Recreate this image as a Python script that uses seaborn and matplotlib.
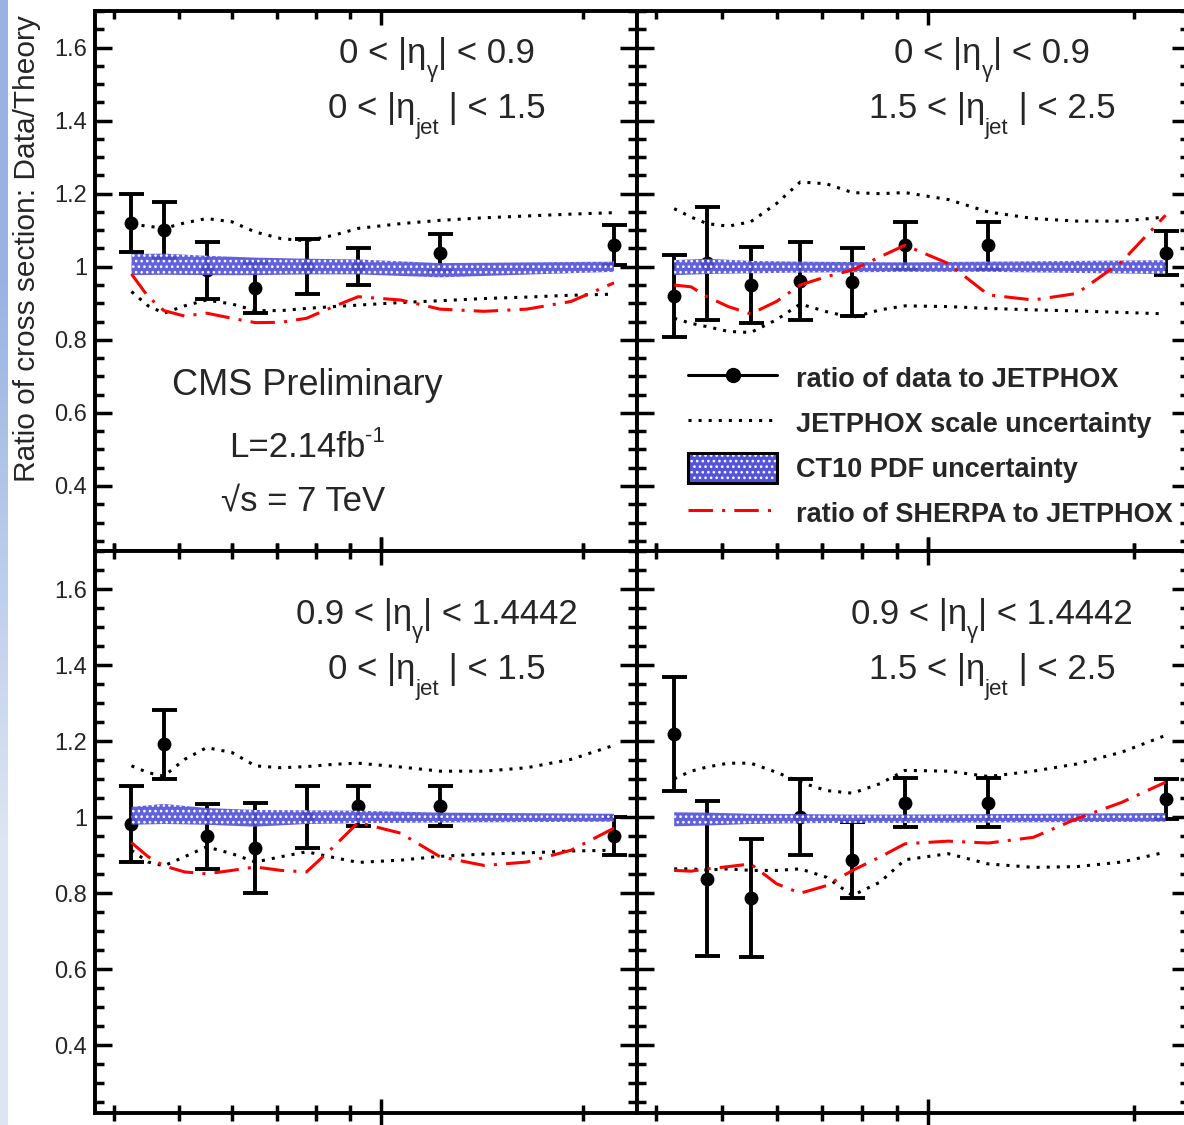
import numpy as np
import matplotlib
matplotlib.use("Agg")
import matplotlib.pyplot as plt
import seaborn as sns
from matplotlib.lines import Line2D
from matplotlib.patches import Patch
from matplotlib.ticker import FixedLocator, NullFormatter, MultipleLocator, FormatStrFormatter

# ---------------- data ----------------
PT = [42.5, 47.5, 55, 65, 77.5, 92.5, 122.5, 222.5]
PT_CURVE = [42.5, 45, 47.5, 51, 55, 60, 65, 71, 77.5, 85, 92.5, 107, 122.5, 142.5, 165, 192, 222.5]

# top-left: 0<|eta_g|<0.9, 0<|eta_jet|<1.5
tl_ratio = [1.12, 1.10, 0.99, 0.941, 1.0, 1.0, 1.039, 1.059]
tl_err = [0.08, 0.077, 0.079, 0.068, 0.075, 0.05, 0.05, 0.055]
tl_band_lo = [0.977, 0.978, 0.977, 0.977, 0.979, 0.979, 0.971, 0.986]
tl_band_hi = [1.035, 1.036, 1.030, 1.025, 1.022, 1.020, 1.010, 1.014]
tl_scale_up = [1.116, 1.111, 1.105, 1.12, 1.132, 1.123, 1.095, 1.077, 1.071, 1.086, 1.105, 1.118, 1.127, 1.134, 1.139, 1.144, 1.148]
tl_scale_dn = [0.932, 0.893, 0.873, 0.893, 0.909, 0.898, 0.88, 0.88, 0.886, 0.891, 0.895, 0.902, 0.907, 0.913, 0.917, 0.922, 0.925]
tl_sherpa = [0.98, 0.918, 0.88, 0.865, 0.873, 0.859, 0.847, 0.848, 0.859, 0.891, 0.918, 0.909, 0.884, 0.878, 0.884, 0.905, 0.956]

# top-right: 0<|eta_g|<0.9, 1.5<|eta_jet|<2.5
tr_ratio = [0.92, 1.009, 0.95, 0.961, 0.959, 1.059, 1.059, 1.038]
tr_err = [0.112, 0.155, 0.105, 0.107, 0.093, 0.064, 0.064, 0.06]
tr_band_lo = [0.977, 0.98, 0.982, 0.984, 0.985, 0.986, 0.986, 0.98]
tr_band_hi = [1.018, 1.022, 1.016, 1.014, 1.013, 1.012, 1.014, 1.018]
tr_scale_up = [1.159, 1.136, 1.118, 1.111, 1.123, 1.173, 1.232, 1.227, 1.203, 1.2, 1.203, 1.184, 1.15, 1.132, 1.125, 1.125, 1.136]
tr_scale_dn = [0.859, 0.845, 0.836, 0.823, 0.82, 0.855, 0.898, 0.877, 0.861, 0.882, 0.893, 0.891, 0.886, 0.882, 0.879, 0.875, 0.871]
tr_sherpa = [0.95, 0.945, 0.918, 0.891, 0.871, 0.905, 0.95, 0.973, 0.991, 1.027, 1.059, 1.009, 0.923, 0.909, 0.927, 1.014, 1.141]

# bottom-left: 0.9<|eta_g|<1.4442, 0<|eta_jet|<1.5
bl_ratio = [0.981, 1.192, 0.95, 0.919, 1.0, 1.03, 1.03, 0.95]
bl_err = [0.1, 0.091, 0.085, 0.118, 0.082, 0.052, 0.052, 0.05]
bl_band_lo = [0.98, 0.982, 0.98, 0.975, 0.982, 0.984, 0.986, 0.988]
bl_band_hi = [1.027, 1.035, 1.024, 1.019, 1.018, 1.017, 1.012, 1.009]
bl_scale_up = [1.135, 1.117, 1.108, 1.152, 1.183, 1.17, 1.135, 1.13, 1.133, 1.139, 1.142, 1.132, 1.121, 1.121, 1.13, 1.152, 1.189]
bl_scale_dn = [0.913, 0.882, 0.872, 0.896, 0.922, 0.904, 0.882, 0.896, 0.909, 0.894, 0.881, 0.887, 0.897, 0.903, 0.906, 0.911, 0.913]
bl_sherpa = [0.933, 0.896, 0.872, 0.856, 0.851, 0.86, 0.869, 0.86, 0.856, 0.922, 0.986, 0.958, 0.896, 0.873, 0.882, 0.913, 0.971]

# bottom-right: 0.9<|eta_g|<1.4442, 1.5<|eta_jet|<2.5
br_ratio = [1.218, 0.838, 0.788, 1.0, 0.888, 1.038, 1.038, 1.048]
br_err = [0.15, 0.204, 0.155, 0.1, 0.1, 0.064, 0.064, 0.052]
br_band_lo = [0.976, 0.978, 0.982, 0.984, 0.985, 0.985, 0.986, 0.988]
br_band_hi = [1.013, 1.012, 1.009, 1.008, 1.007, 1.007, 1.008, 1.011]
br_scale_up = [1.101, 1.121, 1.132, 1.142, 1.142, 1.118, 1.092, 1.07, 1.063, 1.088, 1.123, 1.121, 1.107, 1.121, 1.14, 1.171, 1.215]
br_scale_dn = [0.864, 0.864, 0.861, 0.864, 0.86, 0.86, 0.864, 0.842, 0.794, 0.829, 0.888, 0.904, 0.877, 0.868, 0.87, 0.882, 0.908]
br_sherpa = [0.86, 0.858, 0.864, 0.87, 0.877, 0.825, 0.8, 0.82, 0.86, 0.895, 0.93, 0.937, 0.932, 0.947, 0.996, 1.039, 1.092]

Y_TICKS_MAJOR = 0.2
Y_TICKS_MINOR = 0.05
X_MAJOR = [100]
X_MINOR = [40, 50, 60, 70, 80, 90, 200]

LEGEND_LABELS = ["ratio of data to JETPHOX", "JETPHOX scale uncertainty",
                 "CT10 PDF uncertainty", "ratio of SHERPA to JETPHOX"]

# ---------------- style ----------------
sns.set_style("ticks")
plt.rcParams["font.family"] = ["Liberation Sans", "DejaVu Sans"]
plt.rcParams["hatch.linewidth"] = 1.1
plt.rcParams["hatch.color"] = "white"

W, H = 1184, 1125
fig = plt.figure(figsize=(W / 100, H / 100), dpi=100)
fig.patch.set_facecolor("white")

BAND_FACE = (0.33, 0.33, 0.86)
BAND_HATCH = "..."
DOT = (0, (1, 2.3))
DASHDOT = (0, (8, 3, 1, 3))


def rect(x0, y0, x1, y1):
    return [x0 / W, 1 - y1 / H, (x1 - x0) / W, (y1 - y0) / H]


def draw_panel(r, ratio, err, blo, bhi, up, dn, sherpa, xdir, left_labels):
    ax = fig.add_axes(r)
    ax.set_facecolor("white")
    ax.set_xscale("log")
    ax.errorbar(PT, ratio, yerr=err, fmt="none", ecolor="black", elinewidth=2.8,
                capsize=9, capthick=2.8, zorder=2)
    sns.scatterplot(x=PT, y=ratio, ax=ax, color="black", s=100, linewidth=0, zorder=2.5)
    ax.fill_between(PT, blo, bhi, facecolor=BAND_FACE + (0.92,), edgecolor="white",
                    hatch=BAND_HATCH, linewidth=0, zorder=3)
    sns.lineplot(x=PT_CURVE, y=up, ax=ax, color="black", linewidth=2.2, linestyle=DOT, zorder=4)
    sns.lineplot(x=PT_CURVE, y=dn, ax=ax, color="black", linewidth=2.2, linestyle=DOT, zorder=4)
    sns.lineplot(x=PT_CURVE, y=sherpa, ax=ax, color="red", linewidth=2.2, linestyle=DASHDOT, zorder=4)

    ax.set_xlim(37.5, 240.8)
    ax.set_ylim(0.222, 1.70)
    ax.xaxis.set_major_locator(FixedLocator(X_MAJOR))
    ax.xaxis.set_minor_locator(FixedLocator(X_MINOR))
    ax.xaxis.set_major_formatter(NullFormatter())
    ax.xaxis.set_minor_formatter(NullFormatter())
    ax.yaxis.set_major_locator(MultipleLocator(Y_TICKS_MAJOR))
    ax.yaxis.set_minor_locator(MultipleLocator(Y_TICKS_MINOR))
    ax.yaxis.set_major_formatter(FormatStrFormatter("%g"))
    ax.tick_params(axis="y", which="both", direction="in", left=True, right=True,
                   width=2.5, color="black", labelsize=17, pad=5.5,
                   labelleft=left_labels, labelright=False)
    ax.tick_params(axis="y", which="major", length=12.5)
    ax.tick_params(axis="y", which="minor", length=6.5)
    ax.tick_params(axis="x", which="both", direction=xdir, top=True, bottom=True,
                   width=2.5, color="black")
    ax.tick_params(axis="x", which="major", length=10 if xdir == "in" else 20)
    ax.tick_params(axis="x", which="minor", length=5.5 if xdir == "in" else 11)
    for sp in ax.spines.values():
        sp.set_linewidth(2.8)
        sp.set_color("black")
    ax.set_xlabel("")
    ax.set_ylabel("")
    return ax


ax_tl = draw_panel(rect(95, 11, 637, 551), tl_ratio, tl_err, tl_band_lo, tl_band_hi,
                   tl_scale_up, tl_scale_dn, tl_sherpa, "in", True)
ax_tr = draw_panel(rect(637, 11, 1189, 551), tr_ratio, tr_err, tr_band_lo, tr_band_hi,
                   tr_scale_up, tr_scale_dn, tr_sherpa, "in", False)
ax_bl = draw_panel(rect(95, 551, 637, 1113), bl_ratio, bl_err, bl_band_lo, bl_band_hi,
                   bl_scale_up, bl_scale_dn, bl_sherpa, "inout", True)
ax_br = draw_panel(rect(637, 551, 1189, 1113), br_ratio, br_err, br_band_lo, br_band_hi,
                   br_scale_up, br_scale_dn, br_sherpa, "inout", False)

# ---------------- texts ----------------
renderer = fig.canvas.get_renderer()


def rich_line(cx, base_y, pieces):
    """pieces: (text, fontsize, dy in px downward). Centered at cx (px)."""
    objs = []
    total = 0.0
    for s, size, dy in pieces:
        t = fig.text(0, 0, s, fontsize=size, ha="left", va="baseline")
        w = t.get_window_extent(renderer=renderer).width
        objs.append((t, dy, w))
        total += w
    x = cx - total / 2
    for t, dy, w in objs:
        t.set_position((x / W, 1 - (base_y + dy) / H))
        x += w


MAIN, SUB = 25, 16
for cx, eg_lo, eg_hi, ej_lo, ej_hi, y1, y2 in [
    (437, "0", "0.9", "0", "1.5", 63, 118),
    (992, "0", "0.9", "1.5", "2.5", 63, 118),
    (437, "0.9", "1.4442", "0", "1.5", 624, 679),
    (992, "0.9", "1.4442", "1.5", "2.5", 624, 679),
]:
    rich_line(cx, y1, [(eg_lo + " < |\u03b7", MAIN, 0), ("\u03b3", SUB, 14),
                       ("| < " + eg_hi, MAIN, 0)])
    rich_line(cx, y2, [(ej_lo + " < |\u03b7", MAIN, 0), ("jet", SUB, 16),
                       (" | < " + ej_hi, MAIN, 0)])

rich_line(307, 395, [("CMS Preliminary", 26, 0)])
rich_line(307, 457, [("L=2.14fb", 25, 0), ("-1", 16, -15)])
rich_line(303, 510, [("\u221As = 7 TeV", 25, 0)])

fig.text(27 / W, 1 - 249 / H, "Ratio of cross section: Data/Theory", fontsize=21.5,
         rotation=90, ha="center", va="center")

# ---------------- legend ----------------
handles = [
    Line2D([], [], color="black", lw=2.2, marker="o", markersize=10),
    Line2D([], [], color="black", lw=2.2, linestyle=DOT),
    (Patch(facecolor=BAND_FACE, edgecolor="white", hatch=BAND_HATCH, linewidth=0),
     Patch(facecolor="none", edgecolor="black", linewidth=2.2)),
    Line2D([], [], color="red", lw=2.2, linestyle=DASHDOT),
]
ax_tr.legend(handles, LEGEND_LABELS, loc="upper left",
             bbox_to_anchor=(688 / W, 1 - 363 / H), bbox_transform=fig.transFigure,
             prop={"weight": "bold", "size": 19.5}, frameon=False,
             handlelength=3.3, handleheight=1.3, handletextpad=0.7,
             labelspacing=0.56, borderpad=0, borderaxespad=0)

# ---------------- slide strip at left edge ----------------
sax = fig.add_axes([0, 0, 8 / W, 1])
grad = np.array([[[0.60, 0.70, 0.89]], [[0.87, 0.90, 0.95]]])
sax.imshow(grad, aspect="auto", interpolation="bilinear", extent=(0, 1, 0, 1))
sax.axis("off")

fig.savefig("out.png", dpi=100)
